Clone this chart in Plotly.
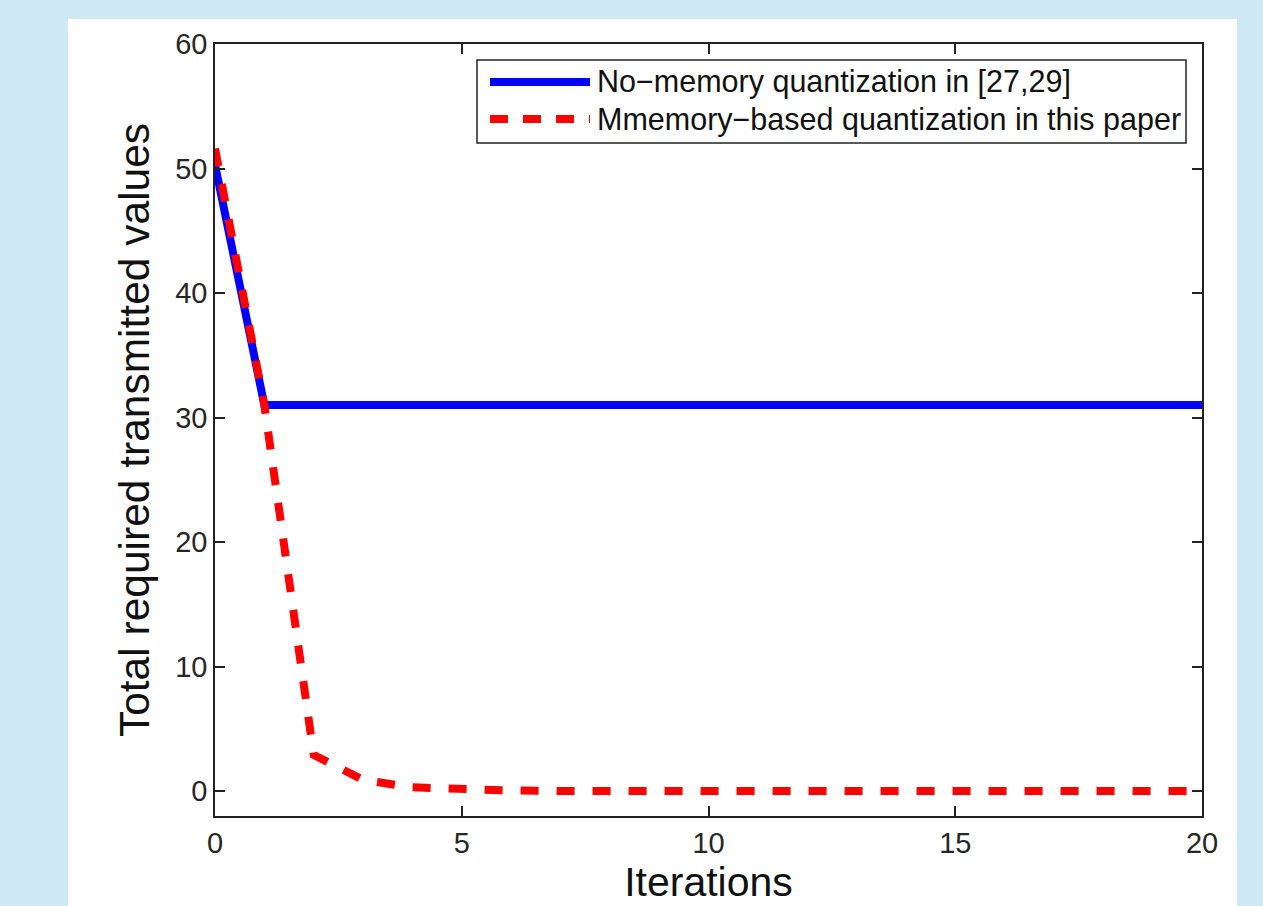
import plotly.graph_objects as go

iterations = list(range(0, 21))
no_memory = [50.3, 31] + [31] * 19
memory_based = [51.6, 31, 2.9, 0.9, 0.3, 0.1, 0.05] + [0.0] * 14
legend_labels = ["No\u2212memory quantization in [27,29]",
                 "Mmemory\u2212based quantization in this paper"]
x_ticks = [0, 5, 10, 15, 20]
y_ticks = [0, 10, 20, 30, 40, 50, 60]

W, H = 1263, 906
L, R, T, B = 215, 1202, 44, 816

def px(x):
    return (x - L) / (R - L)

def py(y):
    return (B - y) / (B - T)

fig = go.Figure()
fig.add_trace(go.Scatter(x=iterations, y=no_memory, mode="lines",
                         line=dict(color="#0000ff", width=8),
                         name=legend_labels[0], showlegend=False))
fig.add_trace(go.Scatter(x=iterations, y=memory_based, mode="lines",
                         line=dict(color="#ff0000", width=8, dash="18px,18px"),
                         name=legend_labels[1], showlegend=False))

shapes = [
    dict(type="rect", xref="paper", yref="paper", x0=px(68), x1=px(1237),
         y0=py(920), y1=py(19), fillcolor="white", line=dict(width=0), layer="below"),
    # legend box
    dict(type="rect", xref="paper", yref="paper", x0=px(477), x1=px(1186),
         y0=py(143), y1=py(60), fillcolor="white", line=dict(color="#222", width=1.5)),
    dict(type="line", xref="paper", yref="paper", x0=px(490), x1=px(590),
         y0=py(82), y1=py(82), line=dict(color="#0000ff", width=8)),
    dict(type="line", xref="paper", yref="paper", x0=px(490), x1=px(590),
         y0=py(119), y1=py(119), line=dict(color="#ff0000", width=8, dash="18px,15px")),
]
annotations = [
    dict(x=px(595), y=py(82), xref="paper", yref="paper", text=legend_labels[0],
         showarrow=False, xanchor="left", yanchor="middle",
         font=dict(family="Liberation Sans, Arial", size=30.5, color="#111")),
    dict(x=px(595), y=py(119), xref="paper", yref="paper", text=legend_labels[1],
         showarrow=False, xanchor="left", yanchor="middle",
         font=dict(family="Liberation Sans, Arial", size=30.5, color="#111")),
]

axis_common = dict(showgrid=False, zeroline=False, showline=True, mirror="ticks",
                   linecolor="#222", linewidth=1.5, ticks="inside", ticklen=10,
                   tickwidth=1.5, tickcolor="#222", automargin=False,
                   tickfont=dict(family="Liberation Sans, Arial", size=29, color="#262626"))

fig.update_layout(
    width=W, height=H,
    margin=dict(l=L, r=W - R, t=T, b=H - B),
    paper_bgcolor="#cee8f4", plot_bgcolor="white",
    shapes=shapes, annotations=annotations,
    xaxis=dict(range=[0, 20], tickvals=x_ticks, ticklabelstandoff=0,
               title=dict(text="Iterations", standoff=4,
                          font=dict(family="Liberation Sans, Arial", size=41, color="#111")),
               **axis_common),
    yaxis=dict(range=[-2, 60], tickvals=y_ticks,
               title=dict(text="Total required transmitted values", standoff=12,
                          font=dict(family="Liberation Sans, Arial", size=42.5, color="#111")),
               **axis_common),
)
fig.write_html("out.html")
